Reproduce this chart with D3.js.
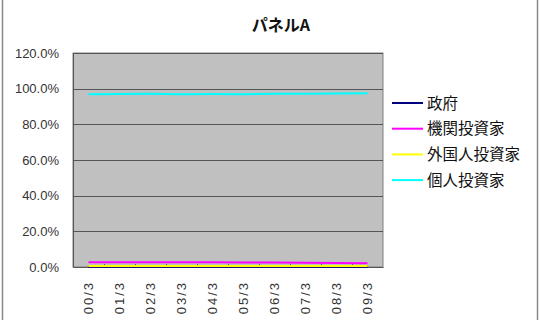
<!DOCTYPE html>
<html>
<head>
<meta charset="utf-8">
<script src="https://cdn.jsdelivr.net/npm/d3@7"></script>
<style>
  body { margin: 0; background: #fff; overflow: hidden; }
  text { font-family: "Liberation Sans", Arial, sans-serif; }
  .jp { font-family: "Noto Sans CJK JP", sans-serif; }
</style>
</head>
<body>
<div id="chart"></div>
<script>
/**
 * DATA
 * */
const categories = ["00/3", "01/3", "02/3", "03/3", "04/3", "05/3", "06/3", "07/3", "08/3", "09/3"];
const seriesNames = ["政府", "機関投資家", "外国人投資家", "個人投資家"];
const seriesColors = ["#000080", "#ff00ff", "#ffff00", "#00ffff"];
const government = [0.1, 0.1, 0.1, 0.1, 0.1, 0.1, 0.1, 0.1, 0.1, 0.1];
const institutional = [2.7, 2.6, 2.6, 2.7, 2.6, 2.5, 2.5, 2.4, 2.2, 2.1];
const foreign = [0.5, 0.5, 0.5, 0.5, 0.5, 0.5, 0.5, 0.5, 0.5, 0.5];
const individual = [96.9, 97.0, 97.1, 96.9, 97.0, 96.9, 97.1, 97.2, 97.3, 97.4];
const yTicks = [0, 20, 40, 60, 80, 100, 120];

const width = 540,
  height = 320,
  margin = { top: 53, bottom: 53, left: 73, right: 157 };

const series = [government, institutional, foreign, individual];

const svg = d3.select("#chart")
  .append("svg")
  .attr("width", width)
  .attr("height", height);

// labels are cut off at the bottom of the chart image
svg.append("clipPath")
  .attr("id", "frame")
  .append("rect")
  .attr("x", 0).attr("y", 0)
  .attr("width", width).attr("height", 314);

// outer chart frame (only the sides are visible in the picture)
svg.append("line").attr("x1", 2.5).attr("x2", 2.5).attr("y1", 0).attr("y2", height)
  .attr("stroke", "#888").attr("stroke-width", 1.5);
svg.append("line").attr("x1", 537.5).attr("x2", 537.5).attr("y1", 0).attr("y2", height)
  .attr("stroke", "#888").attr("stroke-width", 1.5);

// title
svg.append("text")
  .attr("class", "jp")
  .attr("x", 281)
  .attr("y", 31)
  .attr("text-anchor", "middle")
  .attr("font-size", 16)
  .attr("font-weight", "bold")
  .attr("fill", "#111")
  .text("パネルA");

// SCALES
const xScale = d3.scaleBand()
  .domain(categories)
  .range([margin.left, width - margin.right]);

const yScale = d3.scaleLinear()
  .domain([0, 120])
  .range([height - margin.bottom, margin.top]);

// plot background
svg.append("rect")
  .attr("x", margin.left)
  .attr("y", margin.top)
  .attr("width", width - margin.left - margin.right)
  .attr("height", height - margin.top - margin.bottom)
  .attr("fill", "#c0c0c0")
  .attr("stroke", "#808080");

// gridlines
svg.append("g")
  .selectAll("line")
  .data(yTicks.slice(1))
  .join("line")
  .attr("x1", margin.left)
  .attr("x2", width - margin.right)
  .attr("y1", d => Math.round(yScale(d)) + 0.5)
  .attr("y2", d => Math.round(yScale(d)) + 0.5)
  .attr("stroke", "#555");

// AXES
const yAxis = d3.axisLeft(yScale)
  .tickValues(yTicks)
  .tickFormat(d => d.toFixed(1) + "%")
  .tickSize(0)
  .tickPadding(14);

svg.append("g")
  .attr("transform", `translate(${margin.left},0)`)
  .call(yAxis)
  .call(g => g.select(".domain").attr("stroke", "#555"))
  .selectAll("text")
  .attr("font-size", 13)
  .attr("fill", "#333");

const xAxis = d3.axisBottom(xScale).tickSize(0).tickPadding(0);

const gx = svg.append("g")
  .attr("clip-path", "url(#frame)")
  .append("g")
  .attr("transform", `translate(0,${height - margin.bottom})`)
  .call(xAxis);
gx.select(".domain").attr("stroke", "#555");
gx.selectAll(".tick text")
  .attr("font-size", 13)
  .attr("letter-spacing", 2)
  .attr("fill", "#333")
  .attr("text-anchor", "end")
  .attr("transform", "rotate(-90)")
  .attr("x", -14)
  .attr("y", 0)
  .attr("dy", "0.35em");

// small tick marks between categories
svg.append("g")
  .selectAll("line")
  .data(categories.slice(1))
  .join("line")
  .attr("x1", d => Math.round(xScale(d)) + 0.5)
  .attr("x2", d => Math.round(xScale(d)) + 0.5)
  .attr("y1", height - margin.bottom - 3)
  .attr("y2", height - margin.bottom)
  .attr("stroke", "#555");

// LINES
const lineFunc = d3.line()
  .x((d, i) => xScale(categories[i]) + xScale.bandwidth() / 2)
  .y(d => yScale(d));

svg.append("g")
  .selectAll("path")
  .data(series)
  .join("path")
  .attr("fill", "none")
  .attr("stroke", (d, i) => seriesColors[i])
  .attr("stroke-width", 2)
  .attr("d", d => lineFunc(d));

// LEGEND
const legend = svg.append("g")
  .selectAll("g")
  .data(seriesNames)
  .join("g")
  .attr("transform", (d, i) => `translate(392,${103 + i * 25.7})`);

legend.append("line")
  .attr("x1", 0).attr("x2", 31)
  .attr("stroke", (d, i) => seriesColors[i])
  .attr("stroke-width", 2);

legend.append("text")
  .attr("class", "jp")
  .attr("x", 35)
  .attr("dy", "0.36em")
  .attr("font-size", 15.5)
  .attr("fill", "#111")
  .text(d => d);
</script>
</body>
</html>
